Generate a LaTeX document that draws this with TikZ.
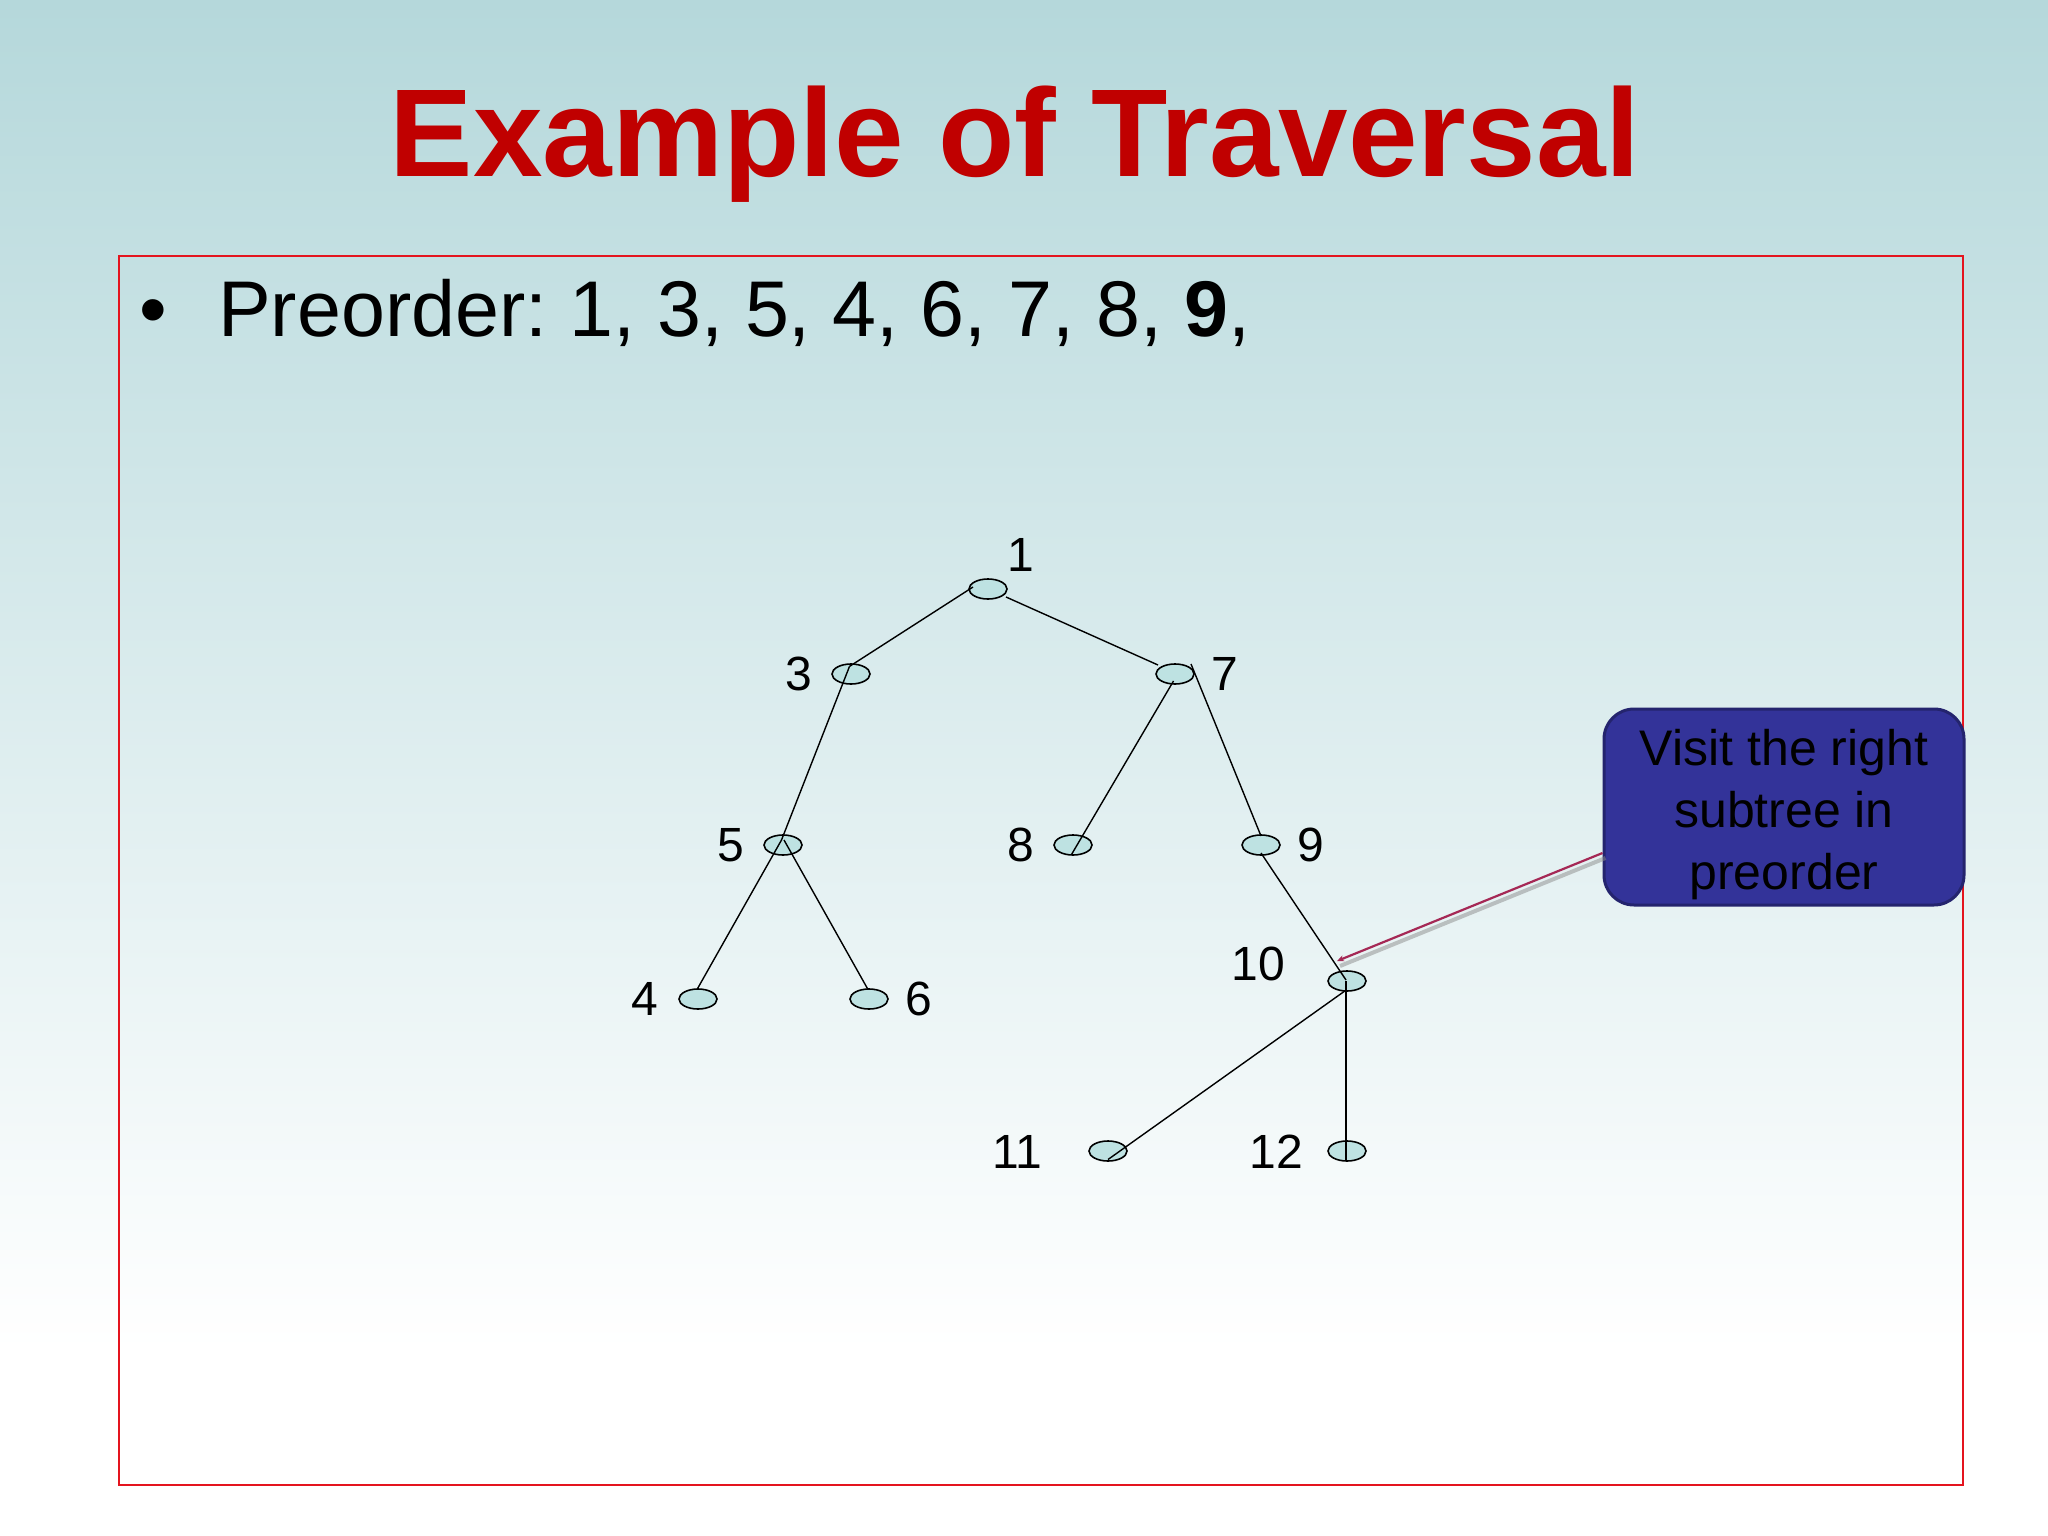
\documentclass[tikz,border=0pt]{standalone}
\usepackage{fontspec}
\setmainfont{Liberation Sans}
\usetikzlibrary{shapes.geometric,arrows.meta}
\definecolor{bgtop}{RGB}{181,216,219}
\definecolor{titlered}{RGB}{192,0,0}
\definecolor{framered}{RGB}{228,20,30}
\definecolor{nodefill}{RGB}{190,226,226}
\definecolor{callfill}{RGB}{51,51,153}
\definecolor{calldraw}{RGB}{36,36,110}
\definecolor{pointer}{RGB}{165,40,85}
\frenchspacing
\begin{document}
\begin{tikzpicture}[x=1pt,y=-1pt,
  treenode/.style={ellipse,draw=black,fill=nodefill,line width=1.6pt,minimum width=38pt,minimum height=20pt,inner sep=0pt},
  edge/.style={line width=1.4pt,black},
  lbl/.style={font=\fontsize{48}{58}\selectfont,inner sep=0pt,anchor=center},
]
\useasboundingbox (0,0) rectangle (2048,1536);
\shade[top color=bgtop,bottom color=white] (0,0) rectangle (2048,1350);
\fill[white] (0,1349) rectangle (2048,1536);
\draw[framered,line width=2.5pt] (119,256) rectangle (1963,1485);

\node[font=\fontsize{125}{150}\selectfont\bfseries,text=titlered,anchor=base,inner sep=0pt] (title) at (1015,176) {Example of Traversal};

\node[font=\fontsize{79}{95}\selectfont,anchor=base west,inner sep=0pt] (bul) at (139,336) {•};
\node[font=\fontsize{79}{95}\selectfont,anchor=base west,inner sep=0pt] (pre) at (218,336) {Preorder: 1, 3, 5, 4, 6, 7, 8, \textbf{9},};

% tree nodes
\node[treenode] (n1) at (988,589) {};
\node[treenode] (n3) at (851,674) {};
\node[treenode] (n7) at (1175,674) {};
\node[treenode] (n5) at (783,845) {};
\node[treenode] (n8) at (1073,845) {};
\node[treenode] (n9) at (1261,845) {};
\node[treenode] (n4) at (698,999) {};
\node[treenode] (n6) at (869,999) {};
\node[treenode] (n10) at (1347,981) {};
\node[treenode] (n11) at (1108,1151) {};
\node[treenode] (n12) at (1347,1151) {};

% labels
\node[lbl] (l1) at (1021,555) {1};
\node[lbl] (l3) at (799,674) {3};
\node[lbl] (l7) at (1225,674) {7};
\node[lbl] (l5) at (731,845) {5};
\node[lbl] (l8) at (1021,845) {8};
\node[lbl] (l9) at (1311,845) {9};
\node[lbl] (l4) at (645,999) {4};
\node[lbl] (l6) at (919,999) {6};
\node[lbl] (l10) at (1258,964) {10};
\node[lbl] (l11) at (1017,1152) {11};
\node[lbl] (l12) at (1276,1152) {12};

% edges
\draw[edge] ([shift={(-15,-2)}]n1.center) -- ([shift={(-1.5,-7.6)}]n3.center);
\draw[edge] ([shift={(18,8)}]n1.center) -- ([shift={(-17,-9)}]n7.center);
\draw[edge] ([shift={(-1.5,-7.6)}]n3.center) -- ([shift={(-1.5,-5)}]n5.center);
\draw[edge] ([shift={(-1.5,-5)}]n5.center) -- ([shift={(-1,-9.5)}]n4.center);
\draw[edge] ([shift={(1,-5)}]n5.center) -- ([shift={(-1,-9.5)}]n6.center);
\draw[edge] ([shift={(-1.5,7)}]n7.center) -- ([shift={(-1.5,9.5)}]n8.center);
\draw[edge] ([shift={(16,-10)}]n7.center) -- ([shift={(0,-9)}]n9.center);
\draw[edge] ([shift={(0,8)}]n9.center) -- ([shift={(-1,-1)}]n10.center);
\draw[edge] ([shift={(-1.5,9.5)}]n10.center) -- ([shift={(0,8.5)}]n11.center);
\draw[edge] ([shift={(-1,0)}]n10.center) -- ([shift={(-1,10)}]n12.center);

% callout
\node[rounded corners=30pt,fill=callfill,draw=calldraw,line width=3pt,minimum width=360pt,minimum height=196pt,inner sep=0pt] (call) at (1784,807) {};
\node[align=center,inner sep=0pt,font=\fontsize{50}{62}\selectfont] (calltxt) at (1784,815) {Visit the right\\subtree in\\preorder};
\coordinate (tip) at (1337,961);
\draw[black!45,opacity=0.5,line width=4pt] ([shift={(3,5)}]call.west |- 0,853) -- ([shift={(3,5)}]tip);
\draw[pointer,line width=2.2pt,-{Stealth[length=7pt,width=6pt]}] (call.west |- 0,853) -- (tip);
\end{tikzpicture}
\end{document}
